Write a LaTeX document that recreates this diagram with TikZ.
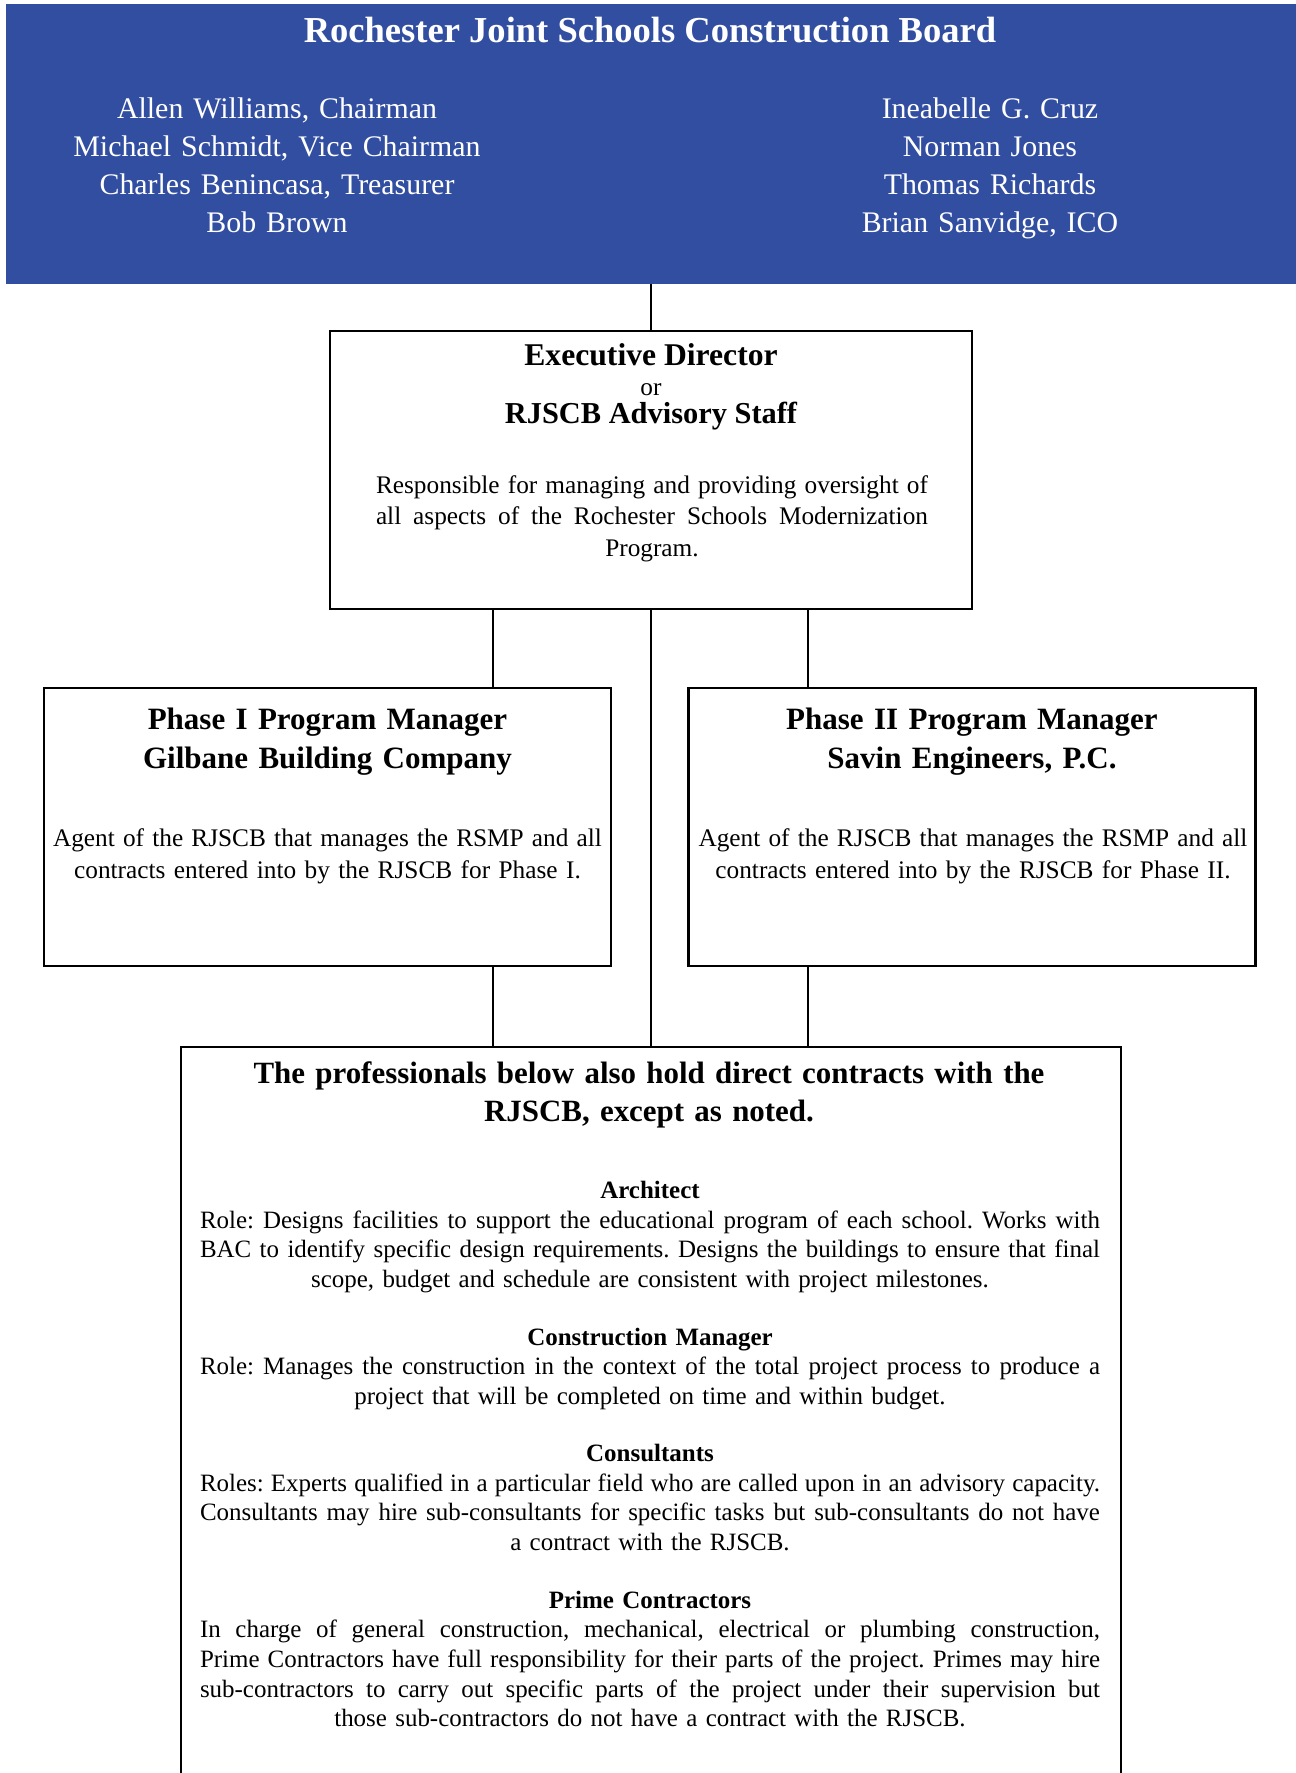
\documentclass[tikz,border=0pt]{standalone}
\usepackage{fontspec}
\setmainfont{Liberation Serif}
\definecolor{boardblue}{RGB}{50,78,160}
\newcommand{\jline}[1]{\makebox[\linewidth][s]{\spaceskip=.3333em plus .3333em minus .1em\relax #1}}

\begin{document}
\frenchspacing
\begin{tikzpicture}[
    wire/.style = {line width=1.2pt},
    box/.style = {draw, line width=1.2pt, inner sep=0pt},
    head/.style = {anchor=base, inner sep=0pt, align=center, font=\bfseries\fontsize{17.65}{22.2}\selectfont},
    body/.style = {anchor=base, inner sep=0pt, align=center, font=\fontsize{14.4}{18.2}\selectfont},
    role/.style = {anchor=base, inner sep=0pt, align=center, text width=18cm, font=\fontsize{14.2}{16.9}\selectfont}]

   \useasboundingbox (0,0) rectangle (25.92,-35.46);

   \node [fill=boardblue, inner sep=0pt, minimum width=25.8cm, minimum height=5.6cm] (board) at (13.02,-2.88) {};
   \node [anchor=base, inner sep=0pt, white, font=\bfseries\fontsize{20.8}{24}\selectfont] (boardT) at (13.0,-0.84) {Rochester Joint Schools Construction Board};
   \node [anchor=base, inner sep=0pt, white, text width=10cm, align=center, font=\fontsize{17}{21.8}\selectfont] (boardL) at (5.54,-2.36)
     {Allen Williams, Chairman\\ Michael Schmidt, Vice Chairman\\ Charles Benincasa, Treasurer\\ Bob Brown};
   \node [anchor=base, inner sep=0pt, white, text width=10cm, align=center, font=\fontsize{17}{21.8}\selectfont] (boardR) at (19.8,-2.36)
     {Ineabelle G. Cruz\\ Norman Jones\\ Thomas Richards\\ Brian Sanvidge, ICO};

   \node [box, minimum width=12.84cm, minimum height=5.56cm] (exec) at (13.02,-9.40) {};
   \node [head, font=\bfseries\fontsize{18}{22}\selectfont] (execT) at (13.02,-7.30) {Executive Director};
   \node [body] (execOr) at (13.02,-7.90) {or};
   \node [head, font=\bfseries\fontsize{17.3}{22}\selectfont] (execS) at (13.02,-8.46) {RJSCB Advisory Staff};
   \node [body, text width=11.04cm] (execD) at (13.04,-9.86)
     {\jline{Responsible for managing and providing oversight of}\\
      \jline{all aspects of the Rochester Schools Modernization}\\
      Program.};

   \node [box, minimum width=11.34cm, minimum height=5.56cm] (p1) at (6.55,-16.54) {};
   \node [head, text width=11cm] (p1T) at (6.55,-14.58) {Phase I Program Manager\\ Gilbane Building Company};
   \node [body, text width=10.98cm] (p1D) at (6.55,-16.93)
     {\jline{Agent of the RJSCB that manages the RSMP and all}\\
      contracts entered into by the RJSCB for Phase I.};

   \node [box, minimum width=11.34cm, minimum height=5.56cm] (p2) at (19.44,-16.54) {};
   \node [head, text width=11cm] (p2T) at (19.44,-14.58) {Phase II Program Manager\\ Savin Engineers, P.C.};
   \node [body, text width=10.98cm] (p2D) at (19.46,-16.93)
     {\jline{Agent of the RJSCB that manages the RSMP and all}\\
      contracts entered into by the RJSCB for Phase II.};

   % open at the foot of the page
   \node [box, anchor=north, minimum width=18.8cm, minimum height=15cm] (low) at (13.02,-20.92) {};
   \node [head, text width=17cm, font=\bfseries\fontsize{17.6}{21.7}\selectfont] (lowT) at (12.98,-21.66)
     {The professionals below also hold direct contracts with the\\ RJSCB, except as noted.};
   \node [role] (arch) at (13.0,-23.97)
     {\textbf{Architect}\\
      \jline{Role: Designs facilities to support the educational program of each school. Works with}\\
      \jline{BAC to identify specific design requirements. Designs the buildings to ensure that final}\\
      scope, budget and schedule are consistent with project milestones.};
   \node [role] (cmgr) at (13.0,-26.90)
     {\textbf{Construction Manager}\\
      \jline{Role: Manages the construction in the context of the total project process to produce a}\\
      project that will be completed on time and within budget.};
   \node [role] (cons) at (13.0,-29.23)
     {\textbf{Consultants}\\
      \jline{Roles: Experts qualified in a particular field who are called upon in an advisory capacity.}\\
      \jline{Consultants may hire sub-consultants for specific tasks but sub-consultants do not have}\\
      a contract with the RJSCB.};
   \node [role] (prime) at (13.0,-32.16)
     {\textbf{Prime Contractors}\\
      \jline{In charge of general construction, mechanical, electrical or plumbing construction,}\\
      \jline{Prime Contractors have full responsibility for their parts of the project. Primes may hire}\\
      \jline{sub-contractors to carry out specific parts of the project under their supervision but}\\
      those sub-contractors do not have a contract with the RJSCB.};

   \coordinate (tapL) at (9.86,0);
   \coordinate (tapR) at (16.16,0);
   \draw [wire] (board.south) -- (exec.north);
   \draw [wire] (exec.south) -- (low.north);
   \draw [wire] (exec.south -| tapL) -- (p1.north -| tapL);
   \draw [wire] (exec.south -| tapR) -- (p2.north -| tapR);
   \draw [wire] (p1.south -| tapL) -- (low.north -| tapL);
   \draw [wire] (p2.south -| tapR) -- (low.north -| tapR);

\end{tikzpicture}
\end{document}
